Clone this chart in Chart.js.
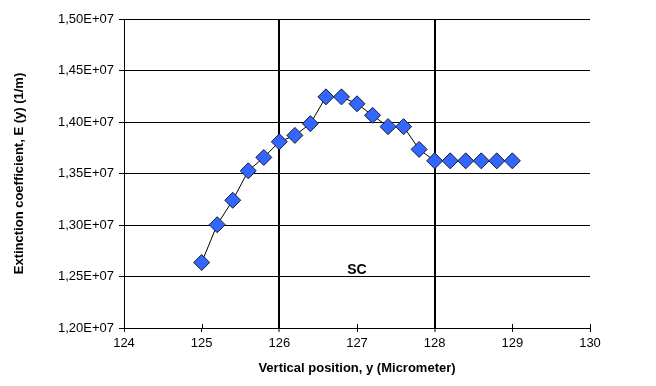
<!DOCTYPE html>
<html>
<head>
<meta charset="utf-8">
<title>Extinction coefficient profile</title>
<script src="https://cdn.jsdelivr.net/npm/chart.js@4/dist/chart.umd.min.js"></script>
<style>
    html, body { margin: 0; padding: 0; background: #ffffff; }
    canvas { display: block; }
</style>
</head>
<body>
<canvas id="profileChart" width="656" height="386"></canvas>
<script>
// Measured profile: vertical position (micrometer) vs extinction coefficient (1/m)
const positions = [125.0, 125.2, 125.4, 125.6, 125.8, 126.0, 126.2, 126.4, 126.6, 126.8,
                   127.0, 127.2, 127.4, 127.6, 127.8, 128.0, 128.2, 128.4, 128.6, 128.8, 129.0];
const extinction = [1.2636e7, 1.3003e7, 1.3240e7, 1.3526e7, 1.3656e7, 1.3808e7, 1.3870e7,
                    1.3984e7, 1.4244e7, 1.4244e7, 1.4177e7, 1.4065e7, 1.3955e7, 1.3955e7,
                    1.3734e7, 1.3623e7, 1.3623e7, 1.3623e7, 1.3623e7, 1.3623e7, 1.3623e7];

// Region boundaries and its label
const boundaries = [126, 128];
const regionLabel = { text: 'SC', x: 127, y: 1.2560e7 };

const FONT = "'Liberation Sans', Arial, sans-serif";

// Short tick marks pointing into the plot from the x axis, plus the region label
const innerTicks = {
    id: 'innerTicks',
    afterDatasetsDraw(chart) {
        const { ctx, scales: { x, y } } = chart;
        ctx.save();
        ctx.strokeStyle = '#000';
        ctx.lineWidth = 1;
        x.ticks.forEach(t => {
            const px = Math.round(x.getPixelForValue(t.value)) + 0.5;
            ctx.beginPath();
            ctx.moveTo(px, y.bottom);
            ctx.lineTo(px, y.bottom - 4);
            ctx.stroke();
        });
        ctx.fillStyle = '#000';
        ctx.font = 'bold 14px ' + FONT;
        ctx.textAlign = 'center';
        ctx.textBaseline = 'middle';
        ctx.fillText(regionLabel.text, x.getPixelForValue(regionLabel.x), y.getPixelForValue(regionLabel.y));
        ctx.restore();
    }
};

const chart = new Chart(document.getElementById('profileChart').getContext('2d'), {
    type: 'scatter',
    data: {
        datasets: [{
            data: positions.map((p, i) => ({ x: p, y: extinction[i] })),
            showLine: true,
            borderColor: '#000000',
            borderWidth: 1,
            pointStyle: 'rectRot',
            pointRadius: 8,
            pointHoverRadius: 8,
            pointBackgroundColor: '#3366ff',
            pointBorderColor: '#1a1a2e',
            pointBorderWidth: 1
        }]
    },
    options: {
        responsive: false,
        devicePixelRatio: 1,
        animation: false,
        layout: { padding: { top: 19, right: 66, left: 12, bottom: 0 } },
        plugins: {
            legend: { display: false },
            tooltip: { enabled: false }
        },
        scales: {
            x: {
                type: 'linear',
                min: 124,
                max: 130,
                ticks: {
                    stepSize: 1,
                    color: '#000',
                    font: { family: FONT, size: 13 },
                    padding: 4
                },
                border: { color: '#000', width: 1 },
                grid: {
                    color: (c) => boundaries.includes(c.tick.value) ? '#000' : 'rgba(0,0,0,0)',
                    lineWidth: (c) => boundaries.includes(c.tick.value) ? 2 : 1,
                    tickColor: '#000',
                    tickWidth: 1,
                    tickLength: 4
                },
                title: {
                    display: true,
                    text: 'Vertical position, y (Micrometer)',
                    color: '#000',
                    font: { family: FONT, size: 13, weight: 'bold' },
                    padding: { top: 4, bottom: 10 }
                },
                afterFit: (scale) => { scale.height = 58; }
            },
            y: {
                min: 1.2e7,
                max: 1.5e7,
                ticks: {
                    stepSize: 0.05e7,
                    color: '#000',
                    font: { family: FONT, size: 13 },
                    padding: 5,
                    callback: (v) => (v / 1e7).toFixed(2).replace('.', ',') + 'E+07'
                },
                border: { color: '#000', width: 1 },
                grid: {
                    color: '#000',
                    lineWidth: 1,
                    tickLength: 5
                },
                title: {
                    display: true,
                    text: 'Extinction coefficient, E (y) (1/m)',
                    color: '#000',
                    font: { family: FONT, size: 13, weight: 'bold' },
                    padding: { top: 0, bottom: 6 }
                },
                afterFit: (scale) => { scale.width = 112; }
            }
        }
    },
    plugins: [innerTicks]
});
</script>
</body>
</html>
